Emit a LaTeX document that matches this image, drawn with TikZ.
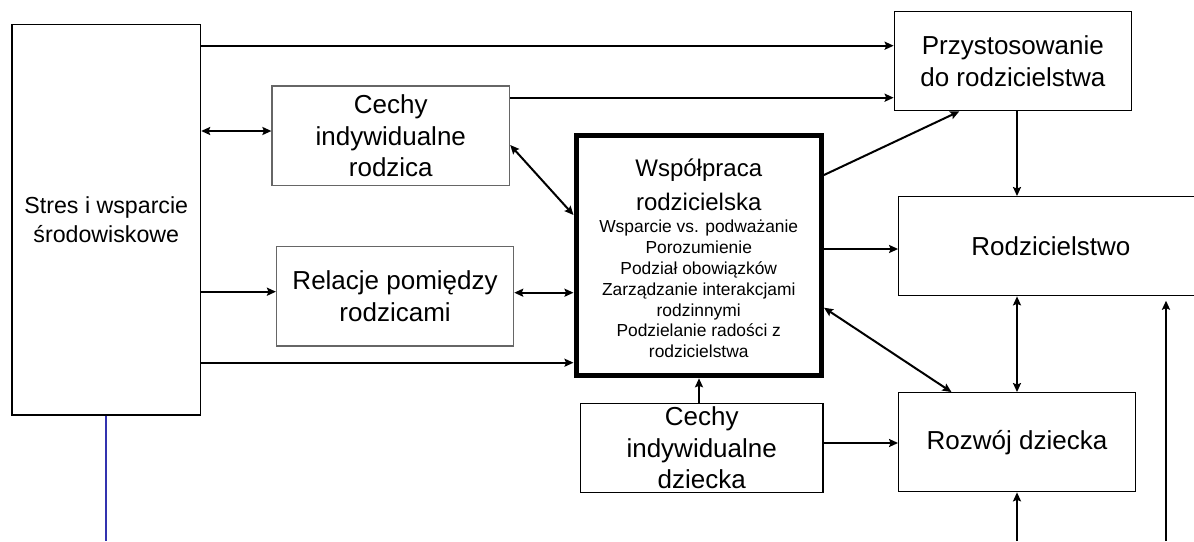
\documentclass[tikz,border=0pt]{standalone}
\usepackage{fontspec}
\setmainfont{Liberation Sans}
\usetikzlibrary{arrows.meta}
\definecolor{linkblue}{RGB}{50,50,175}
\begin{document}
\begin{tikzpicture}[x=1pt,y=-1pt,
  box/.style={draw=black, line width=1.3pt, inner sep=0pt, align=center, font=\fontsize{26}{31.5}\selectfont},
  greybox/.style={box, draw=black!60},
  mainbox/.style={draw=black, line width=5pt, inner sep=0pt},
  tip/.tip={Stealth[length=9pt,width=8pt,inset=1.5pt]},
  arr/.style={line width=2pt, -tip},
  darr/.style={line width=2pt, tip-tip},
  ]
\useasboundingbox (0,0) rectangle (1194,541);
\clip (0,0) rectangle (1194,541);

\node[box, minimum width=188.5pt, minimum height=390.7pt, font=\fontsize{23.2}{28.3}\selectfont] (stres) at (106.3,219.7) {Stres i wsparcie\\środowiskowe};
\node[greybox, minimum width=237.5pt, minimum height=99.7pt] (cr) at (390.8,135.9) {Cechy\\indywidualne\\rodzica};
\node[box, minimum width=237pt, minimum height=99pt] (prz) at (1012.8,61.2) {Przystosowanie\\do rodzicielstwa};
\node[greybox, minimum width=237pt, minimum height=99.3pt] (rel) at (395.1,296.4) {Relacje pomiędzy\\rodzicami};
\node[mainbox, minimum width=245.5pt, minimum height=240pt] (wsp) at (698.75,255.8) {};
\node[font=\fontsize{24}{34}\selectfont, align=center, inner sep=0pt] (wspt) at (698.75,184.9) {Współpraca\\rodzicielska};
\node[font=\fontsize{17.4}{20.8}\selectfont, align=center, inner sep=0pt] (wsps) at (698.75,289.1) {Wsparcie vs. podważanie\\Porozumienie\\Podział obowiązków\\Zarządzanie interakcjami\\rodzinnymi\\Podzielanie radości z\\rodzicielstwa};
\node[box, minimum width=242.7pt, minimum height=89pt] (cd) at (701.7,447.8) {Cechy\\indywidualne\\dziecka};
\node[box, minimum width=304.3pt, minimum height=99pt] (rodz) at (1050.9,246.2) {Rodzicielstwo};
\node[box, minimum width=236.6pt, minimum height=99pt] (roz) at (1017,442.2) {Rozwój dziecka};

\coordinate (b1) at (1017,541);
\coordinate (b2) at (1166,541);
\coordinate (b2t) at (1166,300.7);
\coordinate (b3) at (105.7,541);

\draw[arr] (stres.east |- 0,45.7) -- (prz.west |- 0,45.7);
\draw[darr] (stres.east |- 0,131) -- (cr.west |- 0,131);
\draw[arr] (cr.east |- 0,97.7) -- (prz.west |- 0,97.7);
\draw[darr] (cr.east |- 0,145) -- (wsp.west |- 0,215);
\draw[arr] (wsp.east |- 0,175) -- (959.3,0 |- prz.south);
\draw[arr] (prz.south -| 1017,0) -- (rodz.north -| 1017,0);
\draw[arr] (wsp.east |- 0,249) -- (rodz.west |- 0,249);
\draw[arr] (stres.east |- 0,291.7) -- (rel.west |- 0,291.7);
\draw[darr] (rel.east |- 0,292.7) -- (wsp.west |- 0,292.7);
\draw[arr] (stres.east |- 0,362.7) -- (wsp.west |- 0,362.7);
\draw[arr] (cd.north -| 699,0) -- (wsp.south -| 699,0);
\draw[arr] (cd.east |- 0,443) -- (roz.west |- 0,443);
\draw[darr] (wsp.east |- 0,307.7) -- (951.5,0 |- roz.north);
\draw[darr] (rodz.south -| roz.north) -- (roz.north);
\draw[arr] (b1) -- (roz.south);
\draw[arr] (b2) -- (b2t);
\draw[linkblue, line width=2pt] (stres.south -| b3) -- (b3);
\end{tikzpicture}
\end{document}
